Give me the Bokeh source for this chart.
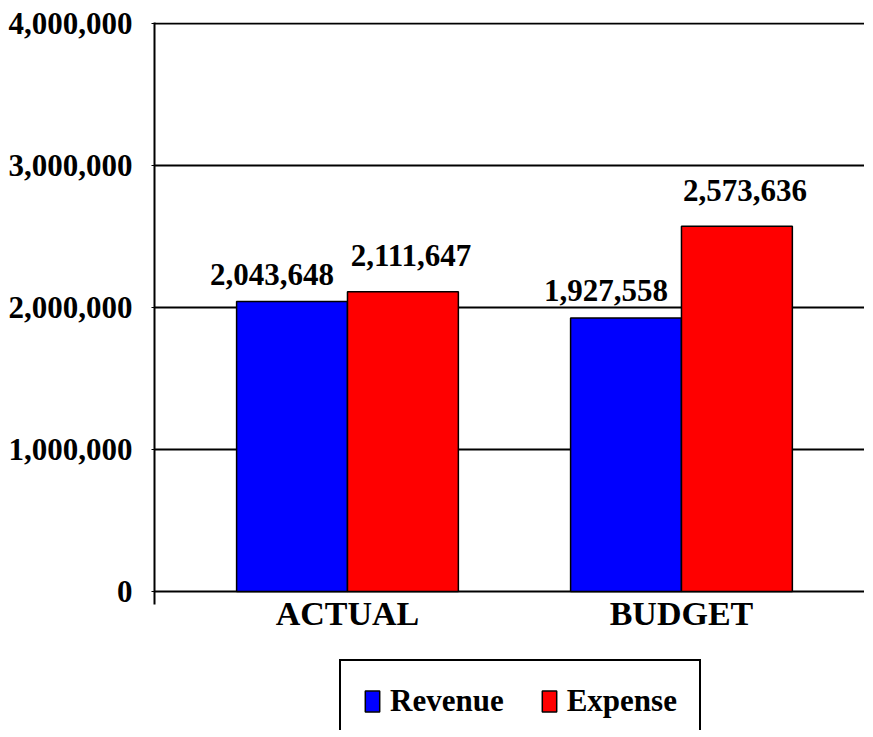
from bokeh.plotting import figure
from bokeh.models import (Range1d, FixedTicker, NumeralTickFormatter, Legend,
                          LegendItem, ColumnDataSource)
from bokeh.core.properties import value
from bokeh.embed import file_html
from bokeh.resources import INLINE

categories = ["ACTUAL", "BUDGET"]
revenue = [2043648, 1927558]
expense = [2111647, 2573636]
series_names = ["Revenue", "Expense"]
y_ticks = [0, 1000000, 2000000, 3000000, 4000000]

FONT = "Liberation Serif"
xs = [i + 1 for i in range(len(categories))]
bar_w = 0.332

p = figure(frame_width=710, frame_height=708, output_backend="svg",
           toolbar_location=None,
           x_range=Range1d(0.4222, 2.548), y_range=Range1d(-980000, 4010000),
           min_border_left=154, min_border_top=22, min_border_right=0,
           min_border_bottom=0)
p.outline_line_color = None
p.background_fill_color = "white"
p.border_fill_color = "white"

src_rev = ColumnDataSource(dict(x=[x - bar_w / 2 for x in xs], top=revenue,
                                lab=[f"{v:,}" for v in revenue]))
src_exp = ColumnDataSource(dict(x=[x + bar_w / 2 for x in xs], top=expense,
                                lab=[f"{v:,}" for v in expense]))
src_cat = ColumnDataSource(dict(x=xs, y=[0] * len(xs), lab=categories))

r1 = p.vbar(x="x", top="top", width=bar_w, source=src_rev,
            fill_color="#0000FF", line_color="black", line_width=1.5)
r2 = p.vbar(x="x", top="top", width=bar_w, source=src_exp,
            fill_color="#FF0000", line_color="black", line_width=1.5)

for src, dx, dy in ((src_rev, -20, -27), (src_exp, 8, -36)):
    p.text(x="x", y="top", text="lab", source=src, text_font=value(FONT),
           text_font_style="bold", text_font_size="31px", text_color="black",
           text_align="center", text_baseline="alphabetic",
           x_offset=dx, y_offset=dy)

# category labels (x axis)
p.text(x="x", y="y", text="lab", source=src_cat, text_font=value(FONT),
       text_font_style="bold", text_font_size="34px", text_color="black",
       text_align="center", text_baseline="top", y_offset=4)
p.xaxis.visible = False

p.yaxis.ticker = FixedTicker(ticks=y_ticks)
p.yaxis.bounds = (-90000, 4010000)
p.yaxis.formatter = NumeralTickFormatter(format="0,0")
p.yaxis.major_label_text_font = FONT
p.yaxis.major_label_text_font_style = "bold"
p.yaxis.major_label_text_font_size = "31px"
p.yaxis.major_label_text_color = "black"
p.yaxis.major_label_standoff = 19
p.yaxis.major_tick_out = 3
p.yaxis.major_tick_in = 0
p.yaxis.major_tick_line_color = "black"
p.yaxis.minor_tick_line_color = None
p.yaxis.axis_line_color = "black"
p.yaxis.axis_line_width = 2

p.xgrid.grid_line_color = None
p.ygrid.ticker = FixedTicker(ticks=y_ticks)
p.ygrid.grid_line_color = "black"
p.ygrid.grid_line_width = 1.8
p.ygrid.grid_line_alpha = 1

legend = Legend(items=[LegendItem(label=series_names[0], renderers=[r1]),
                       LegendItem(label=series_names[1], renderers=[r2])],
                orientation="horizontal", location=(185, -13))
legend.label_text_font = FONT
legend.label_text_font_style = "bold"
legend.label_text_font_size = "31px"
legend.label_text_color = "black"
legend.glyph_width = 18
legend.glyph_height = 26
legend.label_standoff = 9
legend.spacing = 36
legend.padding = 22
legend.margin = 0
legend.border_line_color = "black"
legend.border_line_width = 2
legend.border_line_alpha = 1
legend.background_fill_alpha = 1
p.add_layout(legend, "center")

open("out.html", "w").write(file_html(p, INLINE))
